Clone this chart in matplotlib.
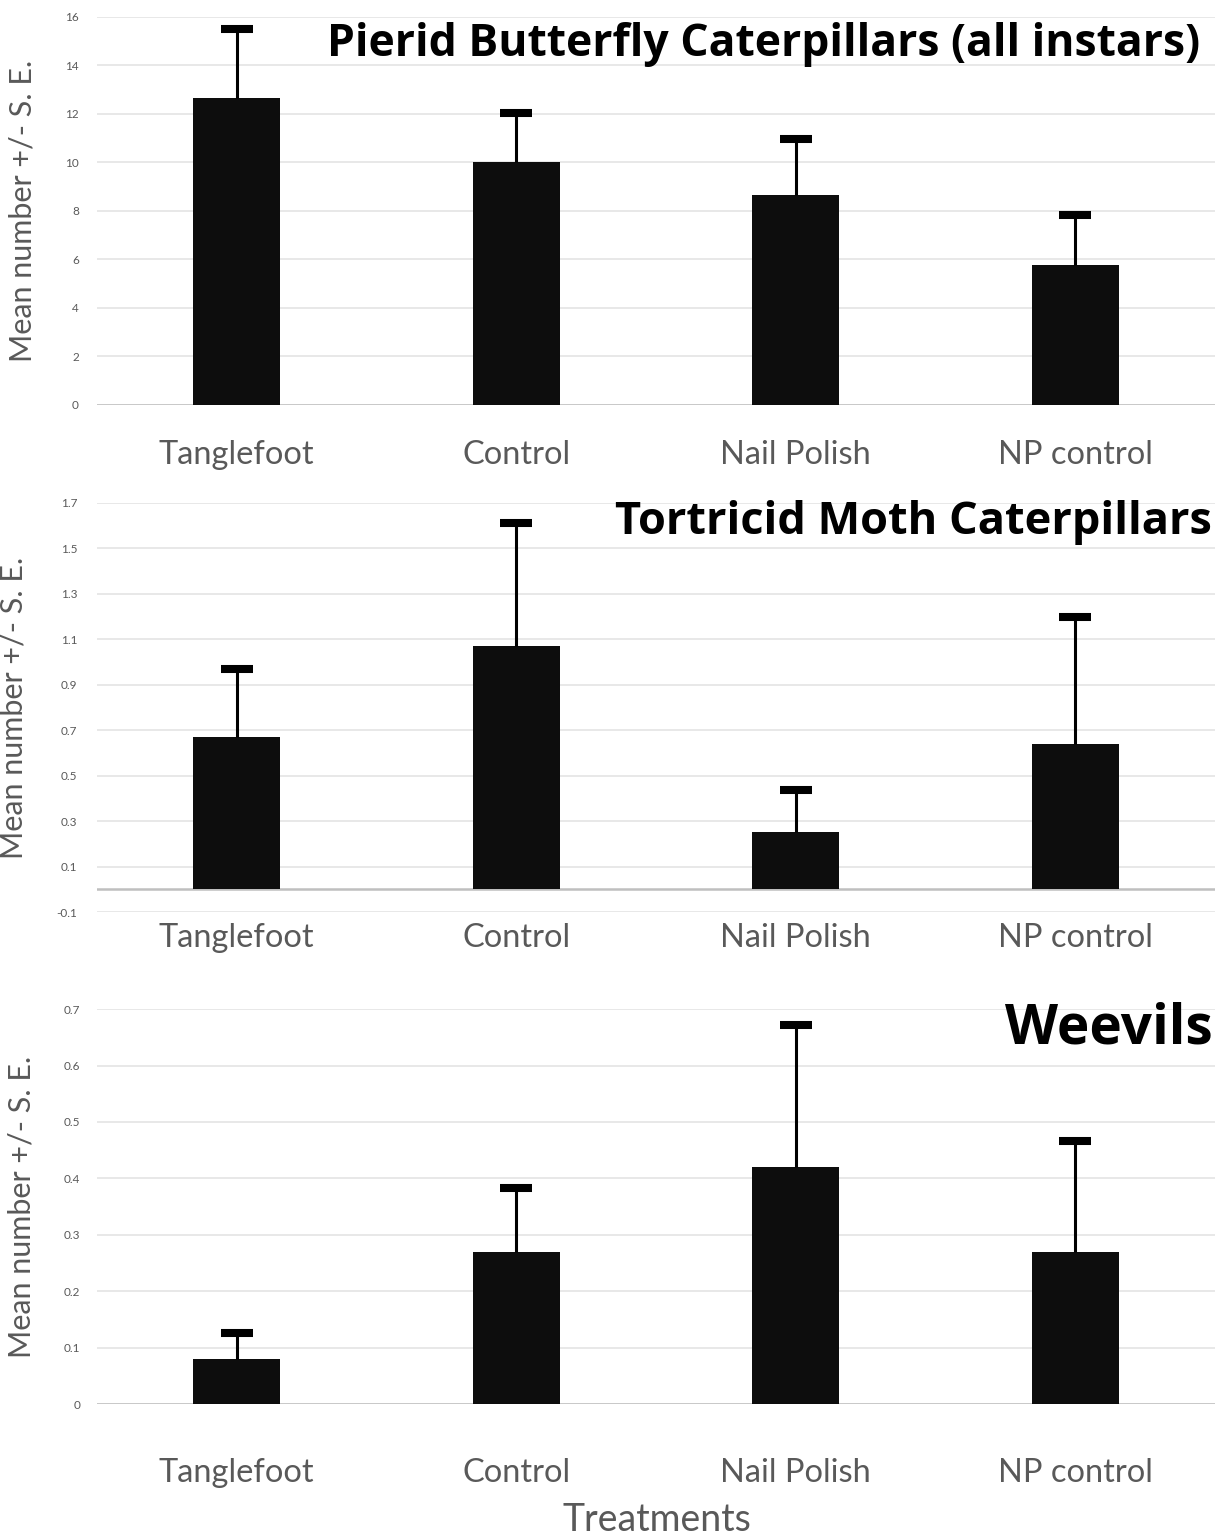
"""
Mean insect counts per treatment, three stacked bar charts with S.E. bars.
"""

import numpy as np
import matplotlib.pyplot as plt

plt.rcParams["font.family"] = ["Lato", "DejaVu Sans"]

categories = ["Tanglefoot", "Control", "Nail Polish", "NP control"]

pierid_mean = [12.67, 10.0, 8.65, 5.77]
pierid_se = [2.83, 2.04, 2.3, 2.06]

tortricid_mean = [0.67, 1.07, 0.25, 0.64]
tortricid_se = [0.30, 0.54, 0.186, 0.56]

weevil_mean = [0.08, 0.27, 0.42, 0.27]
weevil_se = [0.046, 0.113, 0.252, 0.197]

GRAY_TXT = "#595959"
GRID = "#e6e6e6"
BASE = "#bfbfbf"
BAR = "#0d0d0d"

fig = plt.figure(figsize=(12.18, 15.38), dpi=100)

panels = [
    # rect, means, ses, ylim, ticks, title, title xy, title size, ytick pad, xtick pad, ylabel x
    ([0.0796, 0.7367, 0.918, 0.2523], pierid_mean, pierid_se, (0, 16),
     np.arange(0, 17, 2), "Pierid Butterfly Caterpillars (all instars)",
     (0.9866, 0.928), 32, 13, 25, -0.054),
    ([0.0796, 0.4070, 0.918, 0.2660], tortricid_mean, tortricid_se, (-0.1, 1.7),
     np.arange(-0.1, 1.71, 0.2), "Tortricid Moth Caterpillars",
     (0.997, 0.952), 32.5, 14, 8, -0.062),
    ([0.0796, 0.0871, 0.918, 0.2568], weevil_mean, weevil_se, (0, 0.7),
     np.arange(0, 0.71, 0.1), "Weevils",
     (0.998, 0.95), 39.5, 12, 39, -0.055),
]

x = np.arange(len(categories))

for rect, means, ses, ylim, ticks, title, txy, tsize, ypad, xpad, ylx in panels:
    ax = fig.add_axes(rect)
    ax.set_xlim(-0.5, 3.5)
    ax.set_ylim(*ylim)

    for t in ticks:
        ax.axhline(t, color=GRID, lw=1.3, zorder=0)
    ax.axhline(0, color=BASE, lw=1.8, zorder=1)

    means = np.array(means)
    ses = np.array(ses)
    ax.bar(x, means, width=0.31, color=BAR, zorder=2)
    # upper S.E. only, with a heavy cap like the Excel original
    ax.errorbar(x, means, yerr=[np.zeros(len(means)), ses], fmt="none",
                ecolor="black", elinewidth=2.2, capsize=0, zorder=3)
    ax.plot(x, means + ses, ls="none", marker="_", ms=23, mew=5.8,
            color="black", zorder=3)

    ax.set_yticks(ticks)
    if ylim[1] > 2:
        ax.set_yticklabels([f"{t:.0f}" for t in ticks])
    else:
        ax.set_yticklabels(["0" if abs(t) < 1e-9 else f"{t:.1f}" for t in ticks])
    ax.set_xticks(x)
    ax.set_xticklabels(categories)

    ax.tick_params(axis="y", length=0, pad=ypad, labelsize=8.5, labelcolor=GRAY_TXT)
    ax.tick_params(axis="x", length=0, pad=xpad, labelsize=23.5, labelcolor=GRAY_TXT)
    for s in ax.spines.values():
        s.set_visible(False)

    ax.set_ylabel("Mean number +/- S. E.", fontsize=22, color=GRAY_TXT)
    ax.yaxis.set_label_coords(ylx, 0.5)

    ax.text(txy[0], txy[1], title, transform=ax.transAxes, ha="right",
            va="center", fontsize=tsize, fontweight="bold", color="black",
            family=["Open Sans", "DejaVu Sans"])

fig.text(657, 1538 - 1520, "Treatments", transform=None, ha="center",
         va="center", fontsize=27, color=GRAY_TXT)

fig.savefig("out.png", dpi=100)
